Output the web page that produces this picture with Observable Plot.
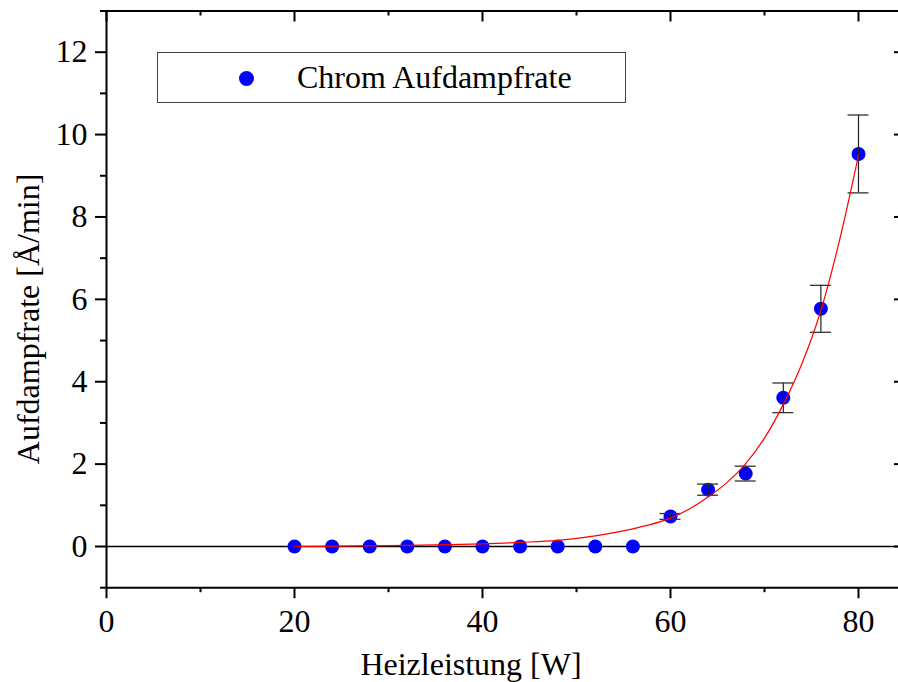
<!DOCTYPE html>
<html>
<head>
<meta charset="utf-8">
<script src="https://cdn.jsdelivr.net/npm/d3@7"></script>
<script src="https://cdn.jsdelivr.net/npm/@observablehq/plot@0.6"></script>
<style>
  html, body { margin: 0; padding: 0; background: white; overflow: hidden; }
  #wrap { position: relative; width: 898px; height: 682px; }
  #legend {
    position: absolute; left: 157px; top: 52px; width: 467px; height: 49px;
    border: 1.5px solid #444; background: white; box-sizing: content-box;
    font-family: "Liberation Serif", "Times New Roman", serif; font-size: 32px; color: #000;
  }
  #legend .dot { position: absolute; left: 81px; top: 17.5px; width: 15px; height: 15px; border-radius: 50%; background: #0000ff; }
  #legend .lab { position: absolute; left: 139px; top: 5px; line-height: 38px; white-space: nowrap; }
</style>
</head>
<body>
<div id="wrap"></div>
<script>
// ---- data ----
const power = [20, 24, 28, 32, 36, 40, 44, 48, 52, 56, 60, 64, 68, 72, 76, 80];
const rate  = [0, 0, 0, 0, 0, 0, 0, 0, 0, 0, 0.73, 1.38, 1.77, 3.61, 5.77, 9.53];
const rateErr = [0, 0, 0, 0, 0, 0, 0, 0, 0, 0, 0.07, 0.135, 0.18, 0.36, 0.57, 0.945];

const fitX = [20, 25, 30, 35, 40, 44, 48, 52, 56, 59, 60, 62, 64, 66, 68, 70, 72, 74, 76, 78, 80];
const fitY = [0, 0.01, 0.02, 0.04, 0.065, 0.10, 0.15, 0.26, 0.43, 0.61, 0.69, 0.91, 1.20, 1.55, 2.01, 2.63, 3.45, 4.45, 5.73, 7.45, 9.5];

const xMajor = [0, 20, 40, 60, 80];
const xMinor = [10, 30, 50, 70];
const yMajor = [0, 2, 4, 6, 8, 10, 12];
const yMinor = [-1, 1, 3, 5, 7, 9, 11, 13];

const xTitle = "Heizleistung [W]";
const yTitle = "Aufdampfrate [Å/min]";
const seriesName = "Chrom Aufdampfrate";

// ---- tables ----
const points = power.map((p, i) => ({x: p, y: rate[i], e: rateErr[i]}));
const bars = points.filter(d => d.e > 0);
const fit = fitX.map((x, i) => ({x, y: fitY[i]}));

const W = 898, H = 682;
const mTop = 10.5, mBottom = H - 587.2, mLeft = 106;
const frameH = H - mTop - mBottom;
const font = "Liberation Serif, Times New Roman, serif";

const chart = Plot.plot({
  width: W, height: H,
  marginTop: mTop, marginBottom: mBottom, marginLeft: mLeft, marginRight: 0,
  style: {fontFamily: font, fontSize: "32px", color: "black", background: "white", overflow: "visible"},
  x: {domain: [0, 85], range: [mLeft, 905], label: null},
  y: {domain: [-1, 13], label: null},
  marks: [
    // frame lines
    Plot.ruleX([0], {stroke: "black", strokeWidth: 2}),
    Plot.ruleY([-1], {stroke: "black", strokeWidth: 2}),
    Plot.ruleY([13], {stroke: "black", strokeWidth: 2}),
    // top ticks (inward)
    Plot.ruleX(xMajor, {stroke: "black", strokeWidth: 2, insetBottom: frameH - 11}),
    Plot.ruleX(xMinor, {stroke: "black", strokeWidth: 2, insetBottom: frameH - 5}),
    // right ticks (inward, right edge lies just outside picture)
    Plot.ruleY(yMajor, {x1: 85, x2: 85, stroke: "black", strokeWidth: 2, insetLeft: -11}),
    // bottom axis
    Plot.axisX({ticks: xMajor, tickSize: 11, tickPadding: 11, strokeWidth: 2, fontSize: 32, label: null, anchor: "bottom"}),
    Plot.axisX({ticks: xMinor, tickSize: 5, tickFormat: () => "", strokeWidth: 2, label: null, anchor: "bottom"}),
    // left axis
    Plot.axisY({ticks: yMajor, tickSize: 11, tickPadding: 8, strokeWidth: 2, fontSize: 32, label: null, anchor: "left"}),
    Plot.axisY({ticks: yMinor, tickSize: 6, tickFormat: () => "", strokeWidth: 2, label: null, anchor: "left"}),
    // zero line
    Plot.ruleY([0], {stroke: "black", strokeWidth: 1.3}),
    // data
    Plot.dot(points, {x: "x", y: "y", r: 7, fill: "#0000ff", stroke: "none"}),
    Plot.ruleX(bars, {x: "x", y1: d => d.y - d.e, y2: d => d.y + d.e, stroke: "#222", strokeWidth: 1.2}),
    Plot.ruleY(bars, {y: d => d.y + d.e, x1: "x", x2: "x", insetLeft: -10.5, insetRight: -10.5, stroke: "#333", strokeWidth: 1.3}),
    Plot.ruleY(bars, {y: d => d.y - d.e, x1: "x", x2: "x", insetLeft: -10.5, insetRight: -10.5, stroke: "#333", strokeWidth: 1.3}),
    Plot.line(fit, {x: "x", y: "y", stroke: "#ff0000", strokeWidth: 1.2, curve: "monotone-x"}),
    // axis titles
    Plot.text([xTitle], {frameAnchor: "bottom", dx: -31.5, dy: 77, text: d => d, fontSize: 32, textAnchor: "middle", lineAnchor: "middle", fill: "black"}),
    Plot.text([yTitle], {frameAnchor: "left", dx: -78, dy: 19.6, rotate: -90, text: d => d, fontSize: 32, textAnchor: "middle", lineAnchor: "middle", fill: "black"})
  ]
});

const wrap = document.getElementById("wrap");
wrap.appendChild(chart);
const legend = document.createElement("div");
legend.id = "legend";
legend.innerHTML = '<span class="dot"></span><span class="lab"></span>';
legend.querySelector(".lab").textContent = seriesName;
wrap.appendChild(legend);
</script>
</body>
</html>
